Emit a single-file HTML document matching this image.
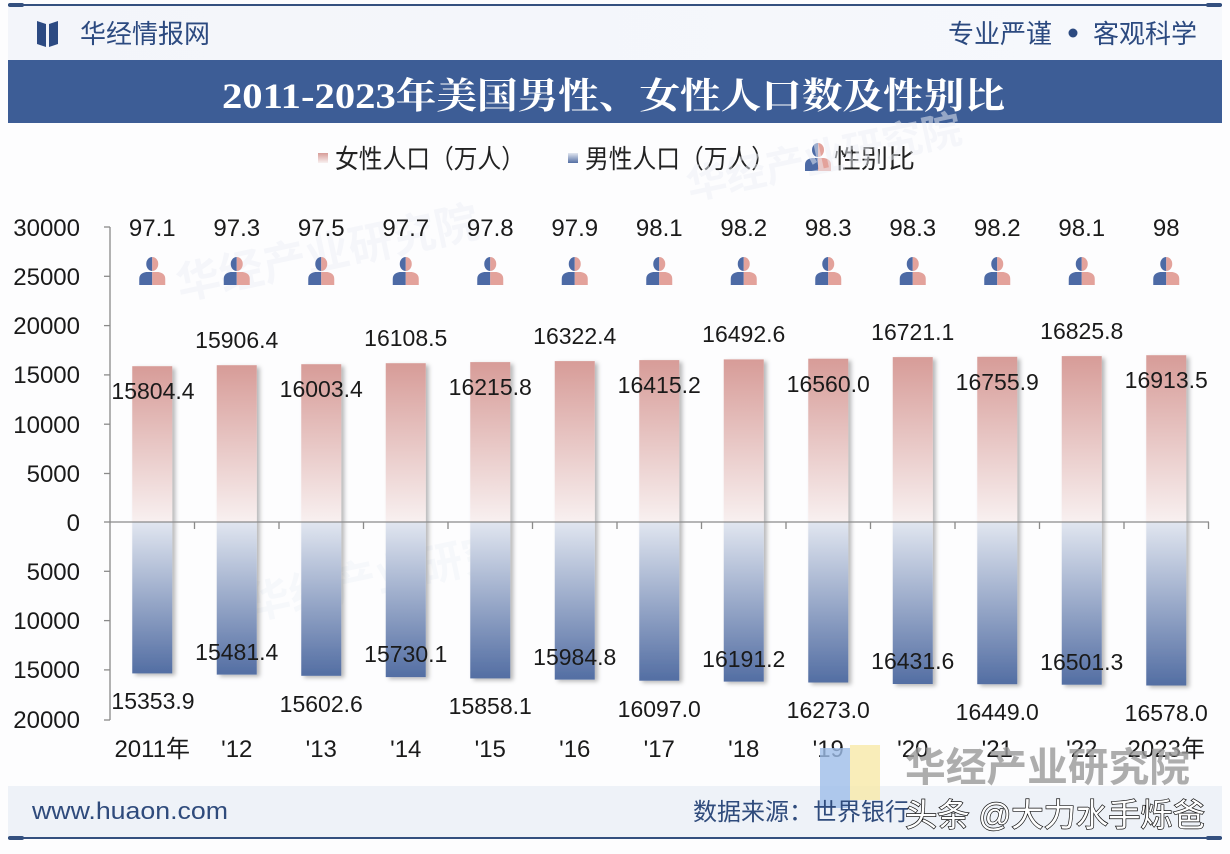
<!DOCTYPE html>
<html><head><meta charset="utf-8"><style>
html,body{margin:0;padding:0;background:#fff;}
svg{display:block;}
.n{font-family:"Liberation Sans",Arial,sans-serif;font-size:23px;fill:#1a1a1a;text-anchor:middle;}
.y{font-family:"Liberation Sans",Arial,sans-serif;font-size:24px;fill:#1a1a1a;text-anchor:end;}
.x{font-family:"Liberation Sans","Noto Sans CJK SC",sans-serif;font-size:24px;fill:#1a1a1a;text-anchor:middle;}
.r{font-family:"Liberation Sans",Arial,sans-serif;font-size:24px;fill:#1a1a1a;text-anchor:middle;}
.cj{font-family:"Liberation Sans","Noto Sans CJK SC",sans-serif;}
</style></head><body>
<svg width="1230" height="854" viewBox="0 0 1230 854" xmlns="http://www.w3.org/2000/svg">
<defs>
<linearGradient id="gf" x1="0" y1="0" x2="0" y2="1"><stop offset="0" stop-color="#d79c98"/><stop offset="1" stop-color="#f8f0f0"/></linearGradient>
<linearGradient id="gm" x1="0" y1="0" x2="0" y2="1"><stop offset="0" stop-color="#e1e6f0"/><stop offset="1" stop-color="#536ea3"/></linearGradient>
<linearGradient id="bg" x1="0" y1="0" x2="1" y2="0"><stop offset="0" stop-color="#f3f5fa"/><stop offset="1" stop-color="#f6f8fc"/></linearGradient>
<filter id="sh" x="-20%" y="-5%" width="150%" height="115%"><feDropShadow dx="3" dy="2" stdDeviation="2" flood-color="#000" flood-opacity="0.28"/></filter>
<clipPath id="cl"><rect x="-20" y="-20" width="20" height="40"/></clipPath>
<clipPath id="cr"><rect x="0" y="-20" width="20" height="40"/></clipPath>
<g id="ic">
 <g clip-path="url(#cl)" fill="#4d6aa5"><ellipse cx="0" cy="-9" rx="6" ry="7"/><path d="M-13,12 L-13,6 Q-13,0 -6,-1 L6,-1 Q13,0 13,6 L13,12 Z"/></g>
 <g clip-path="url(#cr)" fill="#e3a29b"><ellipse cx="0" cy="-9" rx="6" ry="7"/><path d="M-13,12 L-13,6 Q-13,0 -6,-1 L6,-1 Q13,0 13,6 L13,12 Z"/></g>
</g>
</defs>

<rect x="0" y="0" width="1230" height="854" fill="#fdfdfe"/>
<rect x="8" y="6" width="1214" height="54" fill="url(#bg)"/>
<rect x="8" y="786" width="1214" height="51" fill="#eef2f8"/>

<rect x="8" y="4" width="1214" height="2" fill="#34507f"/>
<rect x="8" y="3" width="16" height="4" rx="2" fill="#34507f"/>
<rect x="1206" y="3" width="16" height="4" rx="2" fill="#34507f"/>

<path d="M37,21 L46,24 L46,47 L37,44 Z" fill="#2c4a82"/>
<path d="M49,24 L58,21 L58,44 L49,47 Z" fill="#2c4a82"/>
<text x="80" y="43" class="cj" font-size="26" fill="#2c4a80" textLength="130" lengthAdjust="spacingAndGlyphs">华经情报网</text>
<text x="948" y="43" class="cj" font-size="26" fill="#2c4a80" textLength="104" lengthAdjust="spacingAndGlyphs">专业严谨</text>
<circle cx="1073" cy="33" r="4.5" fill="#2c4a80"/>
<text x="1093" y="43" class="cj" font-size="26" fill="#2c4a80" textLength="104" lengthAdjust="spacingAndGlyphs">客观科学</text>

<rect x="8" y="60" width="1214" height="63" fill="#3d5d96"/>
<text x="222" y="108" font-family="'Liberation Serif','Noto Serif CJK SC',serif" font-weight="bold" font-size="36" fill="#fff" textLength="783" lengthAdjust="spacingAndGlyphs">2011-2023年美国男性、女性人口数及性别比</text>

<rect x="318" y="153" width="10" height="10" fill="url(#gf)"/>
<text x="335" y="168" class="cj" font-size="26" fill="#222" textLength="190" lengthAdjust="spacingAndGlyphs">女性人口（万人）</text>
<rect x="568" y="153" width="10" height="10" fill="url(#gm)"/>
<text x="585" y="168" class="cj" font-size="26" fill="#222" textLength="190" lengthAdjust="spacingAndGlyphs">男性人口（万人）</text>
<use href="#ic" x="818" y="159"/>
<text x="834" y="168" class="cj" font-size="26" fill="#222" textLength="81" lengthAdjust="spacingAndGlyphs">性别比</text>

<text x="180" y="300" class="cj" font-size="44" font-weight="bold" fill="#eef1f7" opacity="0.5" transform="rotate(-12 180 300)">华经产业研究院</text>
<text x="690" y="200" class="cj" font-size="40" font-weight="bold" fill="#eef1f7" opacity="0.5" transform="rotate(-12 690 200)">华经产业研究院</text>
<text x="250" y="620" class="cj" font-size="44" font-weight="bold" fill="#eef1f7" opacity="0.4" transform="rotate(-12 250 620)">华经产业研究</text>

<g stroke="#8a8a8a" stroke-width="1.3" fill="none">
<line x1="110" y1="227" x2="110" y2="720"/>
<line x1="104" y1="227" x2="110" y2="227"/>
<line x1="104" y1="276.3" x2="110" y2="276.3"/>
<line x1="104" y1="325.6" x2="110" y2="325.6"/>
<line x1="104" y1="374.9" x2="110" y2="374.9"/>
<line x1="104" y1="424.2" x2="110" y2="424.2"/>
<line x1="104" y1="473.5" x2="110" y2="473.5"/>
<line x1="104" y1="522" x2="110" y2="522"/>
<line x1="104" y1="571.3" x2="110" y2="571.3"/>
<line x1="104" y1="620.6" x2="110" y2="620.6"/>
<line x1="104" y1="669.9" x2="110" y2="669.9"/>
<line x1="104" y1="720" x2="110" y2="720"/>
</g>

<text x="80" y="236" class="y">30000</text>
<text x="80" y="285" class="y">25000</text>
<text x="80" y="334" class="y">20000</text>
<text x="80" y="383" class="y">15000</text>
<text x="80" y="433" class="y">10000</text>
<text x="80" y="482" class="y">5000</text>
<text x="80" y="531" class="y">0</text>
<text x="80" y="580" class="y">5000</text>
<text x="80" y="629" class="y">10000</text>
<text x="80" y="678" class="y">15000</text>
<text x="80" y="728" class="y">20000</text>

<g filter="url(#sh)">
<rect x="132.25" y="366.2" width="40" height="155.8" fill="url(#gf)"/>
<rect x="216.75" y="365.2" width="40" height="156.8" fill="url(#gf)"/>
<rect x="301.25" y="364.2" width="40" height="157.8" fill="url(#gf)"/>
<rect x="385.75" y="363.2" width="40" height="158.8" fill="url(#gf)"/>
<rect x="470.25" y="362.1" width="40" height="159.9" fill="url(#gf)"/>
<rect x="554.75" y="361.1" width="40" height="160.9" fill="url(#gf)"/>
<rect x="639.25" y="360.1" width="40" height="161.9" fill="url(#gf)"/>
<rect x="723.75" y="359.4" width="40" height="162.6" fill="url(#gf)"/>
<rect x="808.25" y="358.7" width="40" height="163.3" fill="url(#gf)"/>
<rect x="892.75" y="357.1" width="40" height="164.9" fill="url(#gf)"/>
<rect x="977.25" y="356.8" width="40" height="165.2" fill="url(#gf)"/>
<rect x="1061.75" y="356.1" width="40" height="165.9" fill="url(#gf)"/>
<rect x="1146.25" y="355.2" width="40" height="166.8" fill="url(#gf)"/>

<rect x="132.25" y="522" width="40" height="151.4" fill="url(#gm)"/>
<rect x="216.75" y="522" width="40" height="152.6" fill="url(#gm)"/>
<rect x="301.25" y="522" width="40" height="153.8" fill="url(#gm)"/>
<rect x="385.75" y="522" width="40" height="155.1" fill="url(#gm)"/>
<rect x="470.25" y="522" width="40" height="156.4" fill="url(#gm)"/>
<rect x="554.75" y="522" width="40" height="157.6" fill="url(#gm)"/>
<rect x="639.25" y="522" width="40" height="158.7" fill="url(#gm)"/>
<rect x="723.75" y="522" width="40" height="159.6" fill="url(#gm)"/>
<rect x="808.25" y="522" width="40" height="160.5" fill="url(#gm)"/>
<rect x="892.75" y="522" width="40" height="162.0" fill="url(#gm)"/>
<rect x="977.25" y="522" width="40" height="162.2" fill="url(#gm)"/>
<rect x="1061.75" y="522" width="40" height="162.7" fill="url(#gm)"/>
<rect x="1146.25" y="522" width="40" height="163.5" fill="url(#gm)"/>
</g>

<g stroke="#8a8a8a" stroke-width="1.3">
<line x1="110" y1="522" x2="1209" y2="522"/>
<line x1="194.5" y1="522" x2="194.5" y2="529"/>
<line x1="279" y1="522" x2="279" y2="529"/>
<line x1="363.5" y1="522" x2="363.5" y2="529"/>
<line x1="448" y1="522" x2="448" y2="529"/>
<line x1="532.5" y1="522" x2="532.5" y2="529"/>
<line x1="617" y1="522" x2="617" y2="529"/>
<line x1="701.5" y1="522" x2="701.5" y2="529"/>
<line x1="786" y1="522" x2="786" y2="529"/>
<line x1="870.5" y1="522" x2="870.5" y2="529"/>
<line x1="955" y1="522" x2="955" y2="529"/>
<line x1="1039.5" y1="522" x2="1039.5" y2="529"/>
<line x1="1124" y1="522" x2="1124" y2="529"/>
<line x1="1208.5" y1="522" x2="1208.5" y2="529"/>
</g>

<text x="152.25" y="236" class="r">97.1</text>
<text x="236.75" y="236" class="r">97.3</text>
<text x="321.25" y="236" class="r">97.5</text>
<text x="405.75" y="236" class="r">97.7</text>
<text x="490.25" y="236" class="r">97.8</text>
<text x="574.75" y="236" class="r">97.9</text>
<text x="659.25" y="236" class="r">98.1</text>
<text x="743.75" y="236" class="r">98.2</text>
<text x="828.25" y="236" class="r">98.3</text>
<text x="912.75" y="236" class="r">98.3</text>
<text x="997.25" y="236" class="r">98.2</text>
<text x="1081.75" y="236" class="r">98.1</text>
<text x="1166.25" y="236" class="r">98</text>

<use href="#ic" x="152.25" y="273"/>
<use href="#ic" x="236.75" y="273"/>
<use href="#ic" x="321.25" y="273"/>
<use href="#ic" x="405.75" y="273"/>
<use href="#ic" x="490.25" y="273"/>
<use href="#ic" x="574.75" y="273"/>
<use href="#ic" x="659.25" y="273"/>
<use href="#ic" x="743.75" y="273"/>
<use href="#ic" x="828.25" y="273"/>
<use href="#ic" x="912.75" y="273"/>
<use href="#ic" x="997.25" y="273"/>
<use href="#ic" x="1081.75" y="273"/>
<use href="#ic" x="1166.25" y="273"/>

<text x="153" y="399" class="n">15804.4</text>
<text x="236.75" y="348" class="n">15906.4</text>
<text x="321.25" y="397" class="n">16003.4</text>
<text x="405.75" y="346" class="n">16108.5</text>
<text x="490.25" y="395" class="n">16215.8</text>
<text x="574.75" y="344" class="n">16322.4</text>
<text x="659.25" y="393" class="n">16415.2</text>
<text x="743.75" y="342" class="n">16492.6</text>
<text x="828.25" y="392" class="n">16560.0</text>
<text x="912.75" y="340" class="n">16721.1</text>
<text x="997.25" y="390" class="n">16755.9</text>
<text x="1081.75" y="339" class="n">16825.8</text>
<text x="1166.25" y="388" class="n">16913.5</text>

<text x="153" y="709" class="n">15353.9</text>
<text x="236.75" y="660" class="n">15481.4</text>
<text x="321.25" y="712" class="n">15602.6</text>
<text x="405.75" y="662" class="n">15730.1</text>
<text x="490.25" y="714" class="n">15858.1</text>
<text x="574.75" y="665" class="n">15984.8</text>
<text x="659.25" y="717" class="n">16097.0</text>
<text x="743.75" y="667" class="n">16191.2</text>
<text x="828.25" y="718" class="n">16273.0</text>
<text x="912.75" y="669" class="n">16431.6</text>
<text x="997.25" y="720" class="n">16449.0</text>
<text x="1081.75" y="670" class="n">16501.3</text>
<text x="1166.25" y="721" class="n">16578.0</text>

<text x="152.25" y="757" class="x">2011年</text>
<text x="236.75" y="757" class="x">'12</text>
<text x="321.25" y="757" class="x">'13</text>
<text x="405.75" y="757" class="x">'14</text>
<text x="490.25" y="757" class="x">'15</text>
<text x="574.75" y="757" class="x">'16</text>
<text x="659.25" y="757" class="x">'17</text>
<text x="743.75" y="757" class="x">'18</text>
<text x="828.25" y="757" class="x">'19</text>
<text x="912.75" y="757" class="x">'20</text>
<text x="997.25" y="757" class="x">'21</text>
<text x="1081.75" y="757" class="x">'22</text>
<text x="1166.25" y="757" class="x">2023年</text>

<rect x="820" y="748" width="30" height="60" fill="#9dbde9" opacity="0.8"/>
<rect x="850" y="745" width="30" height="55" fill="#f8e8a8" opacity="0.8"/>
<text x="905" y="781" class="cj" font-size="40" font-weight="bold" fill="#9a9a9a" opacity="0.8" textLength="285" lengthAdjust="spacingAndGlyphs">华经产业研究院</text>

<text x="32" y="819" font-family="'Liberation Sans',Arial,sans-serif" font-size="24" fill="#2f4b7c" textLength="196" lengthAdjust="spacingAndGlyphs">www.huaon.com</text>
<text x="693" y="820" class="cj" font-size="24" fill="#2f4b7c">数据来源：世界银行</text>
<text x="905" y="826" class="cj" font-size="32" fill="#fff" stroke="#111" stroke-width="1.4" paint-order="stroke" textLength="300" lengthAdjust="spacingAndGlyphs">头条 @大力水手烁爸</text>

<rect x="8" y="837" width="1214" height="2" fill="#34507f"/>
<rect x="8" y="836" width="16" height="4" rx="2" fill="#34507f"/>
<rect x="1206" y="836" width="16" height="4" rx="2" fill="#34507f"/>
</svg>
</body></html>
